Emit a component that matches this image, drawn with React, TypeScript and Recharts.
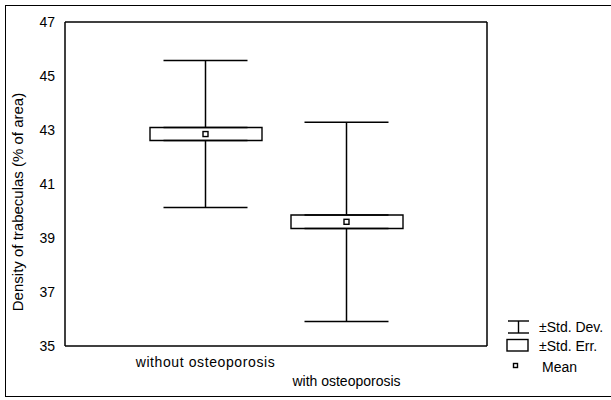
import {
  ComposedChart,
  Bar,
  Line,
  ErrorBar,
  XAxis,
  YAxis,
  Legend,
} from "recharts";

const groups = ["without osteoporosis", "with osteoporosis"];
const means = [42.85, 39.6];
const stdErr = [0.24, 0.25];
const stdDev = [2.72, 3.69];

const yTicks = [35, 37, 39, 41, 43, 45, 47];
const legendLabels = ["\u00b1Std. Dev.", "\u00b1Std. Err.", "Mean"];

const data = groups.map((name, i) => ({
  name,
  mean: means[i],
  se: stdErr[i],
  sd: stdDev[i],
}));

const font = "'Liberation Sans', Arial, sans-serif";

function MeanDot(props: any) {
  const { cx, cy } = props;
  if (cx == null || cy == null) return null;
  return (
    <rect x={cx - 2.5} y={cy - 2.5} width={5} height={5} fill="#fff" stroke="#000" strokeWidth={1.4} />
  );
}

function CategoryTick(props: any) {
  const { x, y, payload } = props;
  const dy = payload.index === 0 ? 21 : 40;
  return (
    <text x={x} y={y + dy} textAnchor="middle" fontSize={14} fontFamily={font} fill="#000"
      letterSpacing={payload.index === 0 ? 0.6 : 0}>
      {payload.value}
    </text>
  );
}

function YLabel(props: any) {
  const { viewBox } = props;
  const cy = viewBox.y + viewBox.height / 2 + 18;
  return (
    <text x={23} y={cy} transform={`rotate(-90, 23, ${cy})`} textAnchor="middle"
      fontSize={15} fontFamily={font} fill="#000">
      Density of trabeculas (% of area)
    </text>
  );
}

function StatLegend() {
  return (
    <svg width={111} height={65} style={{ display: "block" }}>
      <g stroke="#000" strokeWidth={1.4} fill="none">
        <line x1={8} y1={6} x2={29} y2={6} />
        <line x1={18.5} y1={6} x2={18.5} y2={18} />
        <line x1={8} y1={18} x2={29} y2={18} />
        <rect x={7} y={24.5} width={21} height={11.5} fill="#fff" />
        <rect x={13.5} y={48.5} width={4} height={4} fill="#fff" />
      </g>
      <g fontSize={14} fontFamily={font} fill="#000">
        <text x={39} y={17}>{legendLabels[0]}</text>
        <text x={39} y={36}>{legendLabels[1]}</text>
        <text x={42} y={56.5}>{legendLabels[2]}</text>
      </g>
    </svg>
  );
}

export default function App() {
  const axisStyle = { stroke: "#000", strokeWidth: 1.5 };
  return (
    <div style={{ position: "absolute", left: 0, top: 0, width: 611, height: 400, background: "#fff" }}>
      <div
        style={{
          position: "absolute",
          left: 5,
          top: 5,
          width: 620,
          height: 392,
          border: "1.5px solid #000",
          boxSizing: "border-box",
        }}
      />
      <ComposedChart
        width={611}
        height={400}
        data={data}
        margin={{ top: 21, right: 123, bottom: 14, left: 15 }}
        style={{ position: "absolute", left: 0, top: 0 }}
      >
        <XAxis
          dataKey="name"
          padding={{ left: 70, right: 70 }}
          height={40}
          axisLine={axisStyle}
          tickLine={false}
          tickSize={0}
          tickMargin={0}
          tick={<CategoryTick />}
          interval={0}
        />
        <XAxis
          xAxisId="top"
          orientation="top"
          dataKey="name"
          padding={{ left: 70, right: 70 }}
          height={1}
          axisLine={axisStyle}
          tickLine={false}
          tick={false}
        />
        <YAxis
          type="number"
          domain={[35, 47]}
          ticks={yTicks}
          interval={0}
          width={50}
          axisLine={axisStyle}
          tickLine={false}
          tickSize={0}
          tickMargin={10}
          tick={{ fontSize: 14, fontFamily: font, fill: "#000" }}
          label={<YLabel />}
        />
        <YAxis
          yAxisId="right"
          orientation="right"
          type="number"
          domain={[35, 47]}
          width={1}
          axisLine={axisStyle}
          tickLine={false}
          tick={false}
        />
        <Line
          dataKey={(d: any) => d.mean + d.se}
          stroke="none"
          dot={false}
          activeDot={false}
          isAnimationActive={false}
          legendType="none"
        >
          <ErrorBar dataKey={(d: any) => [0, d.sd - d.se]} direction="y" width={42} stroke="#000" strokeWidth={1.5} />
        </Line>
        <Line
          dataKey={(d: any) => d.mean - d.se}
          stroke="none"
          dot={false}
          activeDot={false}
          isAnimationActive={false}
          legendType="none"
        >
          <ErrorBar dataKey={(d: any) => [d.sd - d.se, 0]} direction="y" width={42} stroke="#000" strokeWidth={1.5} />
        </Line>
        <Bar
          dataKey={(d: any) => [d.mean - d.se, d.mean + d.se]}
          barSize={112}
          fill="#fff"
          stroke="#000"
          strokeWidth={1.4}
          isAnimationActive={false}
          legendType="none"
        />
        <Line
          dataKey="mean"
          stroke="none"
          dot={<MeanDot />}
          activeDot={false}
          isAnimationActive={false}
          legendType="none"
        />
        <Legend
          layout="vertical"
          align="center"
          verticalAlign="middle"
          wrapperStyle={{ left: 500, top: 315, width: 111, height: 65 }}
          content={() => <StatLegend />}
        />
      </ComposedChart>
    </div>
  );
}
